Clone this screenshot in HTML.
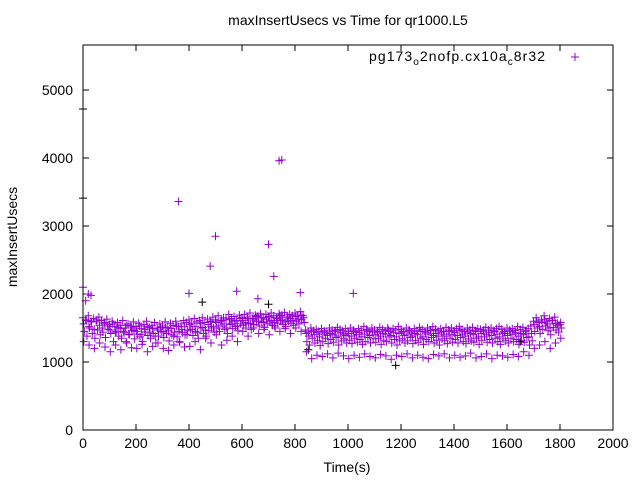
<!DOCTYPE html>
<html><head><meta charset="utf-8"><style>
body{margin:0;background:#fff}
svg{display:block;font-family:"Liberation Sans",sans-serif}
</style></head><body>
<svg id="chart" width="640" height="480">
<rect width="640" height="480" fill="#fff"/>
<text x="348" y="25" font-size="14" text-anchor="middle">maxInsertUsecs vs Time for qr1000.L5</text>
<text x="347" y="472" font-size="14" text-anchor="middle">Time(s)</text>
<text x="17" y="237" font-size="14" text-anchor="middle" transform="rotate(-90 17 237)">maxInsertUsecs</text>
<g id="axes"></g>
<g id="marks"></g>
<g>
<text x="369" y="61" font-size="14" textLength="176" lengthAdjust="spacing">pg173<tspan dy="4" font-size="10">o</tspan><tspan dy="-4">2nofp.cx10a</tspan><tspan dy="4" font-size="10">c</tspan><tspan dy="-4">8r32</tspan></text>
<path d="M571 57h8M575 53v8" stroke="#9400d3" stroke-width="1"/>
</g>
<rect x="83" y="45" width="530" height="385" fill="none" stroke="#000"/>
</svg>
<script>
const xTicks=[0,200,400,600,800,1000,1200,1400,1600,1800,2000];
const yTicks=[0,1000,2000,3000,4000,5000];
const band1=[1650,1620,1680,1600,1640,1590,1660,1610,1570,1630,1550,1600,1520,1580,1540,1610,1500,1560,1530,1590,1520,1570,1490,1550,1600,1510,1540,1580,1500,1560,1530,1590,1510,1570,1540,1600,1520,1560,1610,1580,1620,1570,1640,1590,1610,1650,1580,1630,1600,1660,1620,1680,1600,1650,1630,1700,1640,1670,1610,1690,1650,1700,1660,1720,1640,1690,1680,1710,1650,1700,1670,1720,1680,1650,1710,1690,1730,1660,1700,1680,1720,1690,1740,1680,1470,1440,1500,1460,1480,1450,1490,1460,1440,1500,1470,1450,1510,1480,1460,1490,1450,1500,1470,1440,1490,1460,1520,1480,1450,1500,1470,1440,1510,1480,1460,1500,1450,1490,1470,1520,1480,1450,1500,1470,1440,1490,1460,1510,1480,1450,1500,1470,1520,1480,1460,1490,1450,1510,1470,1500,1460,1490,1520,1480,1450,1500,1470,1510,1460,1490,1480,1450,1510,1470,1500,1460,1490,1520,1480,1450,1500,1470,1490,1460,1520,1480,1510,1450,1490,1530,1600,1650,1580,1620,1680,1590,1640,1610,1660,1570,1550];
const band2=[1450,1380,1500,1420,1350,1470,1400,1440,1360,1480,1420,1300,1450,1380,1350,1430,1280,1400,1460,1340,1410,1370,1300,1440,1390,1350,1420,1280,1380,1450,1360,1420,1310,1400,1440,1370,1290,1430,1400,1460,1480,1390,1450,1350,1500,1420,1380,1460,1520,1440,1500,1450,1530,1480,1420,1550,1490,1520,1460,1560,1540,1500,1570,1480,1550,1600,1530,1580,1510,1560,1590,1540,1500,1570,1610,1550,1520,1600,1570,1540,1600,1560,1620,1580,1300,1250,1350,1280,1320,1240,1300,1350,1270,1330,1290,1360,1250,1310,1340,1280,1320,1270,1350,1290,1330,1260,1300,1360,1280,1340,1290,1350,1260,1320,1300,1370,1280,1330,1250,1310,1340,1280,1310,1360,1270,1320,1290,1350,1260,1330,1300,1360,1280,1320,1250,1340,1310,1270,1350,1290,1330,1280,1360,1300,1270,1340,1310,1290,1350,1260,1320,1370,1290,1330,1280,1350,1300,1260,1340,1310,1280,1350,1300,1330,1260,1320,1290,1360,1250,1310,1450,1500,1420,1480,1530,1460,1400,1510,1470,1440,1500];
const band4=[1560,1610,1520,1590,1480,1620,1540,1500,1580,1530,1470,1560,1430,1510,1490,1450,1540,1410,1500,1470,1450,1530,1400,1480,1520,1440,1490,1380,1470,1510,1440,1500,1460,1490,1380,1530,1450,1480,1520,1400,1550,1480,1520,1430,1570,1510,1470,1550,1590,1500,1580,1530,1610,1560,1500,1620,1570,1600,1530,1640,1610,1580,1640,1560,1620,1670,1600,1650,1590,1630,1660,1610,1580,1640,1680,1620,1590,1660,1640,1610,1670,1630,1690,1650,1420,1380,1450,1400,1430,1370,1410,1440,1390,1420,1400,1460,1380,1430,1410,1390,1420,1380,1450,1400,1430,1370,1410,1460,1390,1440,1400,1450,1380,1420,1410,1470,1390,1430,1370,1420,1440,1390,1410,1460,1380,1420,1400,1450,1370,1430,1410,1460,1390,1420,1380,1440,1410,1380,1450,1400,1430,1390,1460,1410,1380,1440,1420,1400,1450,1370,1420,1470,1400,1430,1390,1450,1410,1370,1440,1420,1390,1450,1410,1430,1380,1420,1400,1460,1370,1420,1550,1600,1520,1580,1620,1560,1500,1610,1570,1540,1580];
const band3=[1300,1250,1200,1280,1220,1150,1250,1180,1300,1210,1200,1260,1150,1230,1280,1200,1170,1250,1300,1220,1230,1300,1180,1350,1280,1400,1250,1320,1380,1300,1450,1380,1500,1420,1480,1400,1530,1450,1490,1420,1500,1450,1150,1050,1100,1080,1120,1060,1130,1090,1050,1100,1070,1120,1080,1060,1110,1090,1040,1100,1080,1120,1060,1100,1070,1050,1110,1090,1120,1060,1100,1070,1090,1130,1060,1080,1120,1050,1100,1090,1070,1110,1080,1150,1100,1200,1250,1300,1200,1280,1350];
const outlierTimes=[360,500,480,700,720,740,750,400,1020,0,20,580,10,820,660,30];
const outlierValues=[3360,2850,2410,2730,2260,3960,3970,2010,2010,2100,2000,2040,1900,2020,1930,1980];
const blackTimes=[0,0,450,700,1180,1650,850];
const blackValues=[4720,3410,1880,1850,950,1300,1180];
const X=v=>83+v*530/2000, Y=v=>430-v*0.068;
const NS="http://www.w3.org/2000/svg";
const axes=document.getElementById('axes'), marks=document.getElementById('marks');
function mk(tag,attrs,parent){const e=document.createElementNS(NS,tag);for(const k in attrs)e.setAttribute(k,attrs[k]);parent.appendChild(e);return e;}
xTicks.forEach(t=>{
  const x=X(t);
  const p=mk('path',{d:`M${x} 430v-6M${x} 45v6`,stroke:'#000'},axes);
  
  
  const l=mk('text',{x:x,y:448,'font-size':14,'text-anchor':'middle'},axes);
  l.textContent=t;
  
  
});
yTicks.forEach(t=>{
  const y=Y(t);
  const p=mk('path',{d:`M83 ${y}h6M613 ${y}h-6`,stroke:'#000'},axes);
  
  
  const l=mk('text',{x:73,y:y+5,'font-size':14,'text-anchor':'end'},axes);
  l.textContent=t;
  
  
});
function cross(t,v,color){
  const x=X(t),y=Y(v);
  const p=mk('path',{d:`M${x-4} ${y}h8M${x} ${y-4}v8`,stroke:color,'stroke-width':1},marks);
  
  
}
band1.forEach((v,i)=>cross(i*10,v,'#9400d3'));
band2.forEach((v,i)=>cross(i*10+5,v,'#9400d3'));
band4.forEach((v,i)=>cross(i*10+2.5,v,'#9400d3'));
band3.forEach((v,i)=>cross(i*20+3,v,'#9400d3'));
outlierTimes.forEach((t,i)=>cross(t,outlierValues[i],'#9400d3'));
blackTimes.forEach((t,i)=>cross(t,blackValues[i],'#000'));
</script>
</body></html>
